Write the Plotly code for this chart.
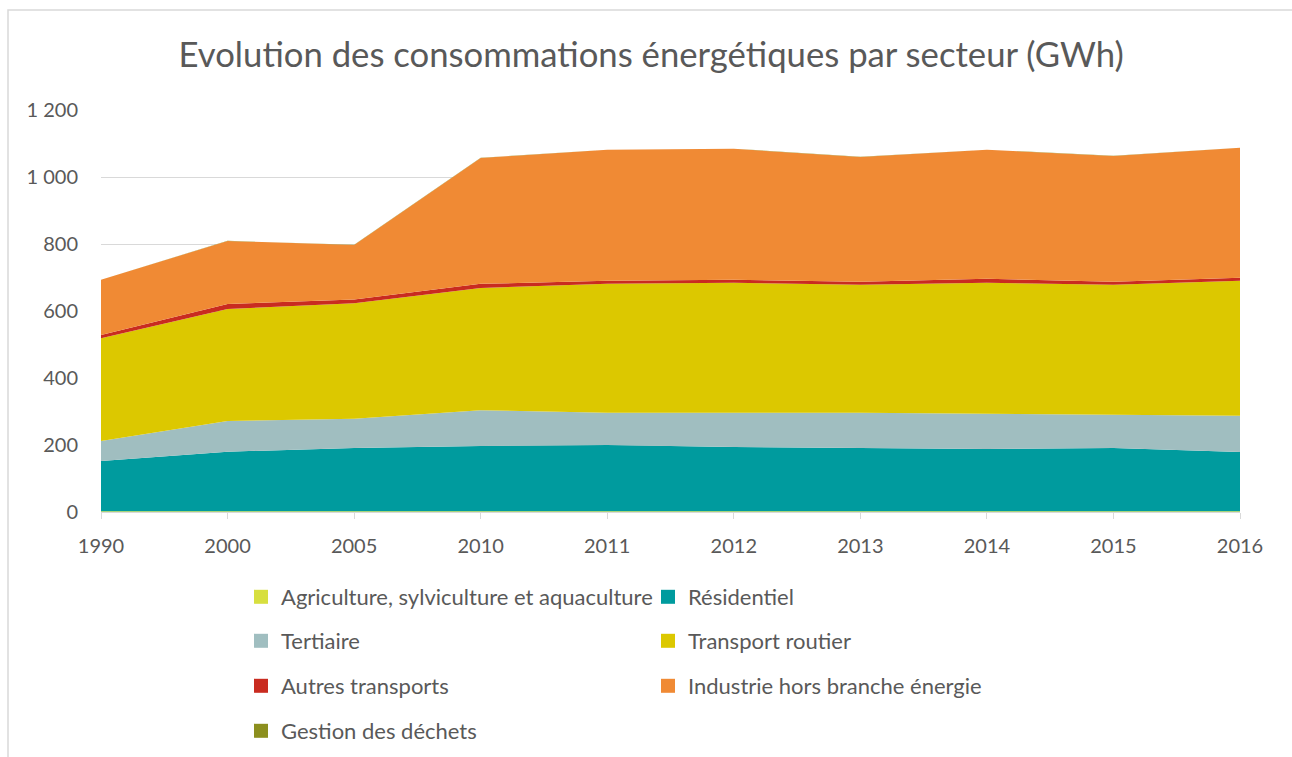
import plotly.graph_objects as go

years = ["1990", "2000", "2005", "2010", "2011", "2012", "2013", "2014", "2015", "2016"]

agriculture = [2, 2, 2, 2, 2, 2, 2, 2, 2, 2]
residentiel = [150, 178, 189, 195, 198, 192, 189, 186, 189, 177]
tertiaire = [60, 92, 87, 107, 96, 102, 105, 105, 99, 108]
transport_routier = [307, 334, 345, 365, 385, 388, 382, 391, 388, 403]
autres_transports = [9, 15, 11, 12, 9, 9, 9, 12, 9, 9]
industrie = [165, 188, 163, 376, 391, 391, 373, 385, 376, 388]
dechets = [0.5, 0.5, 0.5, 0.5, 0.5, 0.5, 0.5, 0.5, 0.5, 0.5]

series = [
    ("Agriculture, sylviculture et aquaculture", agriculture, "#d7df3f"),
    ("Résidentiel", residentiel, "#009b9e"),
    ("Tertiaire", tertiaire, "#a0bec0"),
    ("Transport routier", transport_routier, "#dcc800"),
    ("Autres transports", autres_transports, "#c92b20"),
    ("Industrie hors branche énergie", industrie, "#f08a34"),
    ("Gestion des déchets", dechets, "#8c8f1e"),
]

FONT = "Lato"
TXT = "#595959"

fig = go.Figure()
for name, vals, col in series:
    fig.add_trace(go.Scatter(
        x=years, y=vals, name=name, stackgroup="one", mode="none",
        fillcolor=col, line=dict(width=0), showlegend=False,
        hoverinfo="x+y+name"))

legend_rows = [["legend", 0, 1], ["legend2", 2, 3], ["legend3", 4, 5], ["legend4", 6]]
for row in legend_rows:
    lg = row[0]
    for i in row[1:]:
        name, vals, col = series[i]
        fig.add_trace(go.Scatter(
            x=[None], y=[None], name=name, mode="markers",
            marker=dict(symbol="square", size=14, color=col),
            legend=lg, showlegend=True))

# plot area pixel geometry
L, R, T, B = 101, 52, 110, 245
W, H = 1292 - L - R, 757 - T - B

def px_x(p):
    return (p - L) / W

def px_y(p):
    return (757 - B - p) / H

row_y = [597, 641, 686, 731]
legend_common = dict(orientation="h", xanchor="left", yanchor="middle",
                     traceorder="normal",
                     font=dict(family=FONT, size=22, color=TXT),
                     entrywidth=362, entrywidthmode="pixels",
                     bgcolor="rgba(0,0,0,0)", itemclick=False, itemdoubleclick=False)
legends = {}
for k, (row, yy) in enumerate(zip(legend_rows, row_y)):
    key = "legend" if k == 0 else f"legend{k+1}"
    legends[key] = dict(x=px_x(241), y=px_y(yy), **legend_common)

fig.update_layout(
    width=1292, height=757,
    margin=dict(l=L, r=R, t=T, b=B, autoexpand=False),
    paper_bgcolor="white", plot_bgcolor="white",
    separators=", ",
    font=dict(family=FONT, size=20, color=TXT),
    title=dict(text="Evolution des consommations énergétiques par secteur (GWh)",
               x=0.504, xanchor="center", xref="container",
               y=1 - 55 / 757, yanchor="middle", yref="container",
               font=dict(family=FONT, size=34.7, color=TXT)),
    xaxis=dict(type="category", range=[0, 9], showgrid=False,
               showline=True, linecolor="#d9d9d9", linewidth=1,
               ticks="outside", ticklen=6, tickcolor="#d9d9d9",
               ticklabelstandoff=10,
               tickfont=dict(family=FONT, size=20, color=TXT), zeroline=False),
    yaxis=dict(range=[0, 1200], tickvals=[0, 200, 400, 600, 800, 1000, 1200],
               tickformat=",d", showgrid=True, gridcolor="#d9d9d9", gridwidth=1,
               showline=False, zeroline=False, ticks="", ticklabelstandoff=22,
               tickfont=dict(family=FONT, size=20, color=TXT)),
    shapes=[dict(type="rect", xref="paper", yref="paper",
                 x0=px_x(8), x1=px_x(1320), y0=px_y(800), y1=px_y(10),
                 line=dict(color="#d9d9d9", width=1.5), fillcolor="rgba(0,0,0,0)",
                 layer="below")],
    **legends,
)

fig.write_html("out.html", config={"displayModeBar": False},
               post_script="document.body.style.margin='0';document.body.style.overflow='hidden';")
